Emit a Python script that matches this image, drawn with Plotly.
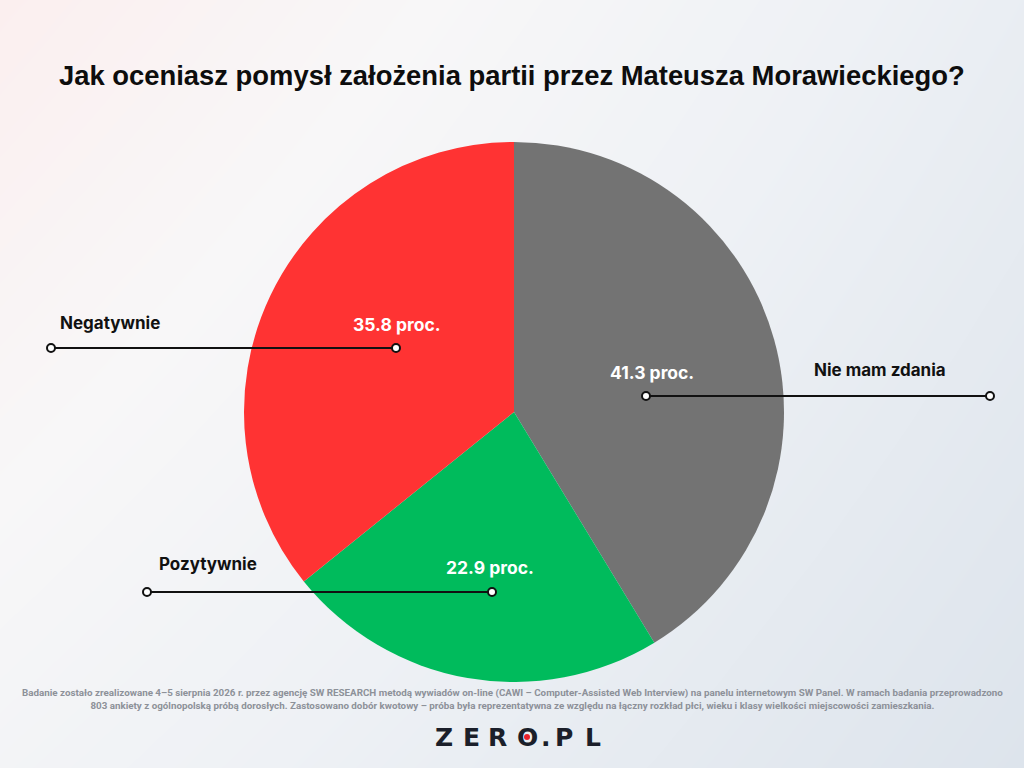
import numpy as np
import plotly.graph_objects as go

# dane z wykresu
odpowiedzi = ["Nie mam zdania", "Pozytywnie", "Negatywnie"]
procenty = [41.3, 22.9, 35.8]
kolory = ["#737373", "#00bb5c", "#ff3333"]

tytul = "Jak oceniasz pomysł założenia partii przez Mateusza Morawieckiego?"
stopka = ("Badanie zostało zrealizowane 4–5 sierpnia 2026 r. przez agencję SW RESEARCH metodą wywiadów on-line "
          "(CAWI – Computer-Assisted Web Interview) na panelu internetowym SW Panel. W ramach badania przeprowadzono<br>"
          "803 ankiety z ogólnopolską próbą dorosłych. Zastosowano dobór kwotowy – próba była reprezentatywna "
          "ze względu na łączny rozkład płci, wieku i klasy wielkości miejscowości zamieszkania.")

W, H = 1024, 768

def px(x):
    return x / W

def py(y):
    return 1 - y / H

fig = go.Figure()

# tło - delikatny gradient
gx = np.linspace(0, 1, 60)
gy = np.linspace(0, 1, 45)
GX, GY = np.meshgrid(gx, gy)
grad = 0.65 * GX + 0.35 * (1 - GY) - 0.2 * GY * (1 - GX)
fig.add_trace(go.Heatmap(
    x=gx, y=gy, z=grad, showscale=False, hoverinfo="skip", zsmooth="best",
    colorscale=[[0, "#fbefef"], [0.3, "#f8f7f8"], [0.6, "#eef1f5"], [1, "#dde4ec"]],
    xaxis="x", yaxis="y",
))

fig.add_trace(go.Pie(
    labels=odpowiedzi, values=procenty, sort=False, direction="clockwise", rotation=0,
    marker=dict(colors=kolory, line=dict(width=0)),
    textinfo="none", hoverinfo="label+value", showlegend=False,
    domain=dict(x=[px(244), px(784)], y=[py(682), py(142)]),
))

# etykiety: (x nazwy, y nazwy, x procentu, y procentu, linia x0, x1, y)
etykiety = {
    "Negatywnie": (110, 323, 397, 324, 51, 396, 348),
    "Pozytywnie": (208, 564, 490, 567, 147, 492, 592),
    "Nie mam zdania": (880, 370, 652, 373, 646, 990, 396),
}

annotations = []
shapes = []
for nazwa, val in zip(odpowiedzi, procenty):
    lx, ly, vx, vy, x0, x1, yl = etykiety[nazwa]
    annotations.append(dict(
        x=px(lx), y=py(ly), xref="paper", yref="paper", text=f"<b>{nazwa}</b>",
        showarrow=False, font=dict(family="Inter", size=17, color="#111111"),
        xanchor="center", yanchor="middle"))
    annotations.append(dict(
        x=px(vx), y=py(vy), xref="paper", yref="paper", text=f"<b>{val:.1f} proc.</b>",
        showarrow=False, font=dict(family="Inter", size=17.5, color="#ffffff"),
        xanchor="center", yanchor="middle"))
    shapes.append(dict(type="line", xref="paper", yref="paper",
                       x0=px(x0), x1=px(x1), y0=py(yl), y1=py(yl),
                       line=dict(color="#111111", width=2)))
    for xc in (x0, x1):
        shapes.append(dict(type="circle", xref="paper", yref="paper",
                           x0=px(xc - 4), x1=px(xc + 4), y0=py(yl + 4), y1=py(yl - 4),
                           fillcolor="#ffffff", line=dict(color="#111111", width=2)))

annotations.append(dict(
    x=0.5, y=py(75), xref="paper", yref="paper", text=f"<b>{tytul}</b>",
    showarrow=False, font=dict(family="Liberation Sans", size=27.4, color="#0d0d0d"),
    xanchor="center", yanchor="middle"))

annotations.append(dict(
    x=0.5, y=py(699), xref="paper", yref="paper", text=f"<b>{stopka}</b>",
    showarrow=False, font=dict(family="Roboto", size=9.8, color="#8d9199"),
    xanchor="center", yanchor="middle", align="center"))

# logo ZERO.PL - litery rozstawione jak w oryginale
logo = ["Z", "E", "R", "O", ".", "P", "L"]
logo_x = [444, 471, 497, 527, 546, 564, 593]
for litera, lx in zip(logo, logo_x):
    annotations.append(dict(
        x=px(lx), y=py(737), xref="paper", yref="paper", text=f"<b>{litera}</b>",
        showarrow=False, font=dict(family="DejaVu Sans", size=25, color="#1b1f2a"),
        xanchor="center", yanchor="middle"))
shapes.append(dict(type="circle", xref="paper", yref="paper",
                   x0=px(524), x1=px(530), y0=py(740), y1=py(734),
                   fillcolor="#e8212b", line=dict(width=0)))

fig.update_layout(
    width=W, height=H, margin=dict(l=0, r=0, t=0, b=0),
    paper_bgcolor="#f4f5f7", plot_bgcolor="#f4f5f7",
    xaxis=dict(domain=[0, 1], range=[0, 1], visible=False, fixedrange=True),
    yaxis=dict(domain=[0, 1], range=[0, 1], visible=False, fixedrange=True),
    annotations=annotations, shapes=shapes,
)

fig.write_html("out.html", config={"displayModeBar": False},
               post_script="document.body.style.margin='0';")
